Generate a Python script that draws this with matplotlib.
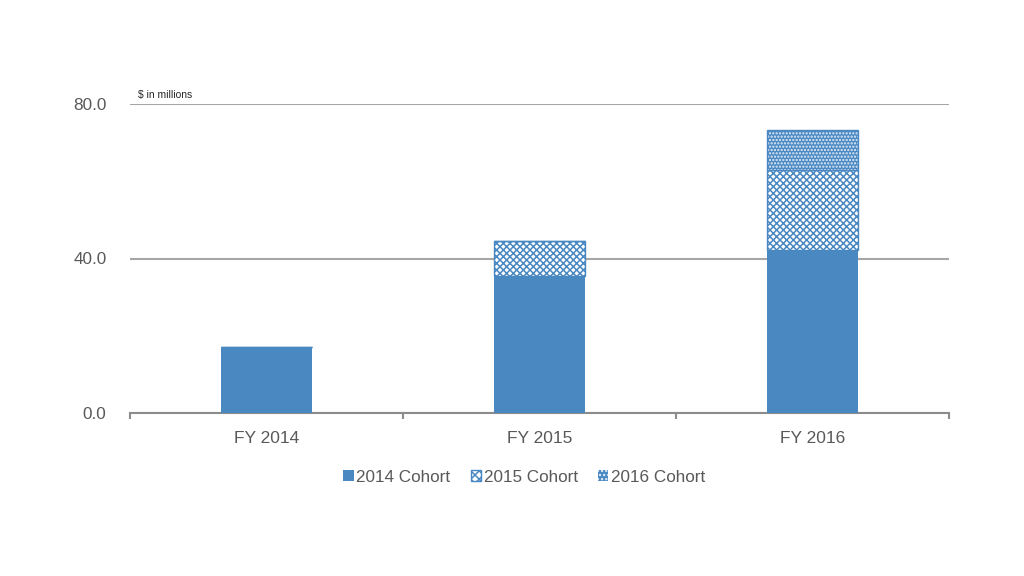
import numpy as np
import matplotlib
matplotlib.use("Agg")
import matplotlib.pyplot as plt
from matplotlib.patches import Patch

# dados
years = ["FY 2014", "FY 2015", "FY 2016"]
cohort_2014 = [17.2, 35.4, 42.2]
cohort_2015 = [0.0, 9.1, 20.6]
cohort_2016 = [0.0, 0.0, 10.4]
labels = ["2014 Cohort", "2015 Cohort", "2016 Cohort"]

blue = "#4a88c2"
grid_gray = "#a6a6a6"
text_gray = "#595959"

plt.rcParams["font.family"] = ["Liberation Sans", "DejaVu Sans"]
plt.rcParams["hatch.linewidth"] = 1.1

fig = plt.figure(figsize=(10.24, 5.76), dpi=100)
ax = fig.add_axes([130 / 1024, 1 - 413 / 576, 819 / 1024, 309 / 576])

x = np.arange(len(years))
width = 0.33
c14 = np.array(cohort_2014)
c15 = np.array(cohort_2015)
c16 = np.array(cohort_2016)

hatch_15 = "xxxxx"
hatch_16 = "....."

ax.bar(x, c14, width, color=blue, linewidth=0, zorder=3)
ax.bar(x, c15, width, bottom=c14, facecolor="white", edgecolor=blue,
       hatch=hatch_15, linewidth=1, zorder=3)
ax.bar(x, c16, width, bottom=c14 + c15, facecolor=blue, edgecolor="#e6f0fa",
       hatch=hatch_16, linewidth=0, zorder=3)
# contorno azul por cima do hachurado
ax.bar(x, c16, width, bottom=c14 + c15, fill=False, edgecolor=blue,
       linewidth=1, zorder=4)

ax.set_xlim(-0.5, 2.5)
ax.set_ylim(0, 80)
ax.set_yticks([0, 40, 80])
ax.set_yticklabels(["0.0", "40.0", "80.0"])
ax.set_xticks(x)
ax.set_xticklabels(years)
ax.set_xticks([-0.5, 0.5, 1.5, 2.5], minor=True)

ax.yaxis.grid(True, color=grid_gray, linewidth=1.5, zorder=0)
for s in ["top", "right", "left"]:
    ax.spines[s].set_visible(False)
ax.spines["bottom"].set_color("#8c8c8c")
ax.spines["bottom"].set_linewidth(1.5)

ax.tick_params(axis="y", length=0, pad=17, labelsize=12.3, labelcolor=text_gray)
ax.tick_params(axis="x", which="major", length=0, pad=13, labelsize=12.5,
               labelcolor=text_gray)
ax.tick_params(axis="x", which="minor", length=4, width=1.5, color="#8c8c8c")

ax.text(8 / 819, 81.5, r"\$ in millions", fontsize=7.5, color="#262626",
        transform=ax.get_yaxis_transform())

handles = [
    Patch(facecolor=blue, linewidth=0),
    Patch(facecolor="white", edgecolor=blue, hatch="xxxx", linewidth=1),
    Patch(facecolor=blue, edgecolor="#e6f0fa", hatch="....", linewidth=0),
]
fig.legend(handles, labels, loc="center", bbox_to_anchor=(0.512, 1 - 477 / 576),
           ncol=3, frameon=False, fontsize=12.3, labelcolor=text_gray,
           handlelength=0.6, handleheight=0.6, handletextpad=0.15,
           columnspacing=1.2)

fig.savefig("out.png", dpi=100)
